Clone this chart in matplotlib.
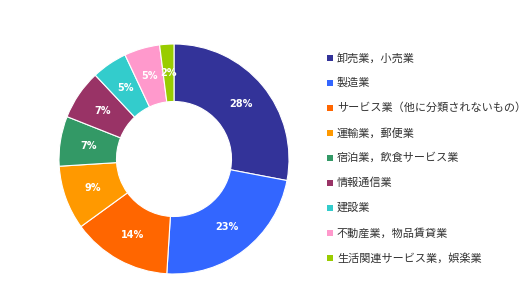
import matplotlib
matplotlib.use("Agg")
import matplotlib.pyplot as plt
from matplotlib.patches import Rectangle

plt.rcParams['font.family'] = ['Noto Sans CJK JP', 'DejaVu Sans']

categories = [
    "卸売業，小売業",
    "製造業",
    "サービス業（他に分類されないもの）",
    "運輸業，郵便業",
    "宿泊業，飲食サービス業",
    "情報通信業",
    "建設業",
    "不動産業，物品賃貸業",
    "生活関連サービス業，娯楽業",
]
shares = [28, 23, 14, 9, 7, 7, 5, 5, 2]
colors = ["#333399", "#3366FF", "#FF6600", "#FF9900", "#339966",
          "#993366", "#33CCCC", "#FF99CC", "#99CC00"]

W, H, DPI = 530, 307, 100
fig = plt.figure(figsize=(W / DPI, H / DPI), dpi=DPI)
fig.patch.set_facecolor("white")

# donut: centre (174, 159) px, outer radius 115 px
cx, cy, r = 174, 159, 115
ax = fig.add_axes([(cx - r) / W, 1 - (cy + r) / H, 2 * r / W, 2 * r / H])
wedges, _, autotexts = ax.pie(
    shares, colors=colors, startangle=90, counterclock=False,
    radius=1.0, autopct=lambda p: f"{p:.0f}%", pctdistance=0.75,
    wedgeprops=dict(width=0.5, edgecolor="white", linewidth=0.8),
    textprops=dict(color="white", fontsize=7, fontweight="bold",
                   family="DejaVu Sans"),
)
ax.set_xlim(-1, 1)
ax.set_ylim(-1, 1)
ax.set_aspect("equal")
ax.axis("off")

# legend drawn as a column of squares and labels
x_sq, y0, step = 330, 58, 25
for i, (name, col) in enumerate(zip(categories, colors)):
    y = y0 + i * step
    fig.patches.append(Rectangle(((x_sq - 3) / W, 1 - (y + 3) / H), 6 / W, 6 / H,
                                 transform=fig.transFigure, facecolor=col,
                                 edgecolor="none"))
    fig.text((x_sq + 7) / W, 1 - y / H, name, fontsize=8, color="#333333",
             va="center", ha="left")

fig.savefig("out.png", dpi=DPI, facecolor="white")
